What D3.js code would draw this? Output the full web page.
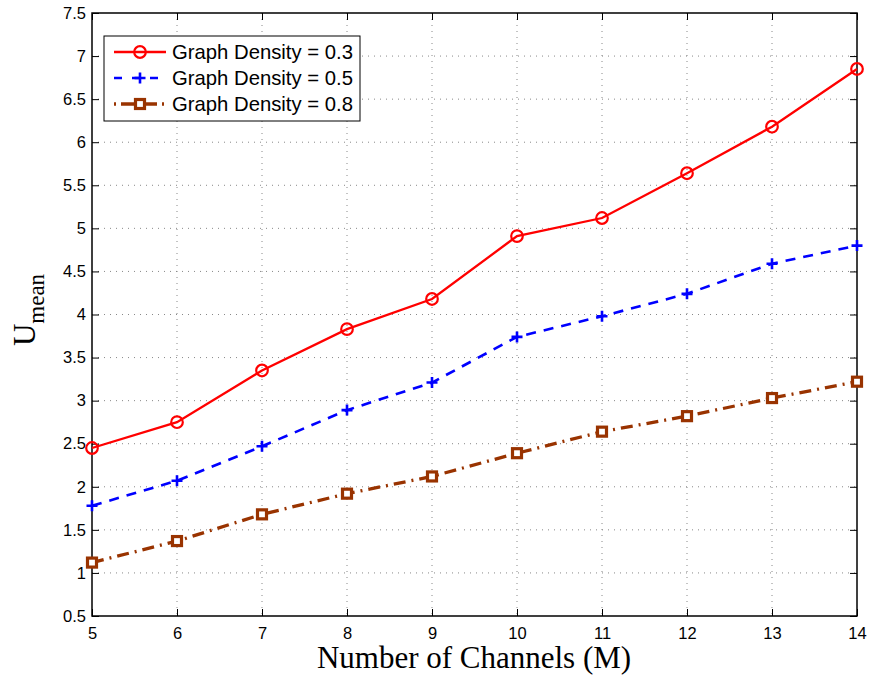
<!DOCTYPE html>
<html><head><meta charset="utf-8">
<script src="https://cdn.jsdelivr.net/npm/d3@7"></script>
<style>body{margin:0;background:#fff}svg{display:block}</style>
</head><body>
<script>
const channels = [5,6,7,8,9,10,11,12,13,14];
const density03 = [2.45,2.75,3.35,3.83,4.18,4.91,5.12,5.64,6.18,6.85];
const density05 = [1.78,2.07,2.47,2.89,3.21,3.74,3.98,4.24,4.59,4.80];
const density08 = [1.12,1.37,1.68,1.92,2.12,2.39,2.64,2.82,3.03,3.22];
const xTicks = [5,6,7,8,9,10,11,12,13,14];
const yTicks = [0.5,1,1.5,2,2.5,3,3.5,4,4.5,5,5.5,6,6.5,7,7.5];
const seriesNames = ["Graph Density = 0.3","Graph Density = 0.5","Graph Density = 0.8"];

const W=873,H=675, L=92,R=857,T=13,B=616;
const svg=d3.select("body").append("svg").attr("width",W).attr("height",H);
const x=d3.scaleLinear().domain([5,14]).range([L,R]);
const y=d3.scaleLinear().domain([0.5,7.5]).range([B,T]);

// grid
const g=svg.append("g");
g.selectAll(".gx").data(xTicks.slice(1,-1)).enter().append("line")
 .attr("x1",d=>x(d)).attr("x2",d=>x(d)).attr("y1",T).attr("y2",B)
 .attr("stroke","#888").attr("stroke-width",1).attr("stroke-dasharray","1,5");
g.selectAll(".gy").data(yTicks.slice(1,-1)).enter().append("line")
 .attr("y1",d=>y(d)).attr("y2",d=>y(d)).attr("x1",L).attr("x2",R)
 .attr("stroke","#888").attr("stroke-width",1).attr("stroke-dasharray","1,5");

// axes
const font="Liberation Sans, Arial, sans-serif";
const ax=svg.append("g").attr("transform",`translate(0,${B})`).call(d3.axisBottom(x).tickValues(xTicks).tickSize(-7).tickPadding(11).tickFormat(d3.format("d")));
const axT=svg.append("g").attr("transform",`translate(0,${T})`).call(d3.axisTop(x).tickValues(xTicks).tickSize(-7).tickFormat(""));
const ay=svg.append("g").attr("transform",`translate(${L},0)`).call(d3.axisLeft(y).tickValues(yTicks).tickSize(-7).tickPadding(6).tickFormat(d=>String(d)));
const ayR=svg.append("g").attr("transform",`translate(${R},0)`).call(d3.axisRight(y).tickValues(yTicks).tickSize(-7).tickFormat(""));
[ax,axT,ay,ayR].forEach(a=>{
  a.select(".domain").remove();
  a.selectAll("line").attr("stroke","#000").attr("stroke-width",1);
  a.selectAll("text").attr("font-family",font).attr("font-size",16.5).attr("fill","#000");
});
svg.append("rect").attr("x",L).attr("y",T).attr("width",R-L).attr("height",B-T)
 .attr("fill","none").attr("stroke","#000").attr("stroke-width",1.5);

// series
const series=[
 {vals:density03,color:"#ff0000",dash:null,w:2.3,marker:"circle"},
 {vals:density05,color:"#0000ff",dash:"10,8",w:2.6,marker:"plus"},
 {vals:density08,color:"#993300",dash:"12,6,2,6",w:3.3,marker:"square"}
];
const line=d3.line().x((d,i)=>x(channels[i])).y(d=>y(d));
function drawMarker(sel,type,color,cx,cy){
  if(type==="circle") sel.append("circle").attr("cx",cx).attr("cy",cy).attr("r",5.8).attr("fill","none").attr("stroke",color).attr("stroke-width",2.2);
  else if(type==="plus"){
    sel.append("path").attr("d",`M${cx-5.5},${cy}H${cx+5.5}M${cx},${cy-5.5}V${cy+5.5}`).attr("stroke",color).attr("stroke-width",2.6).attr("fill","none");
  } else {
    sel.append("rect").attr("x",cx-4.5).attr("y",cy-4.5).attr("width",9).attr("height",9).attr("fill","#fff").attr("stroke",color).attr("stroke-width",3.2);
  }
}
series.forEach(s=>{
  const p=svg.append("path").datum(s.vals).attr("d",line).attr("fill","none")
   .attr("stroke",s.color).attr("stroke-width",s.w);
  if(s.dash) p.attr("stroke-dasharray",s.dash);
  const mg=svg.append("g");
  s.vals.forEach((v,i)=>drawMarker(mg,s.marker,s.color,x(channels[i]),y(v)));
});

// legend
const lg=svg.append("g");
lg.append("rect").attr("x",104).attr("y",36).attr("width",256).attr("height",85).attr("fill","#fff").attr("stroke","#000").attr("stroke-width",1);
series.forEach((s,i)=>{
  const yy=52+i*26;
  const l=lg.append("line").attr("x1",114).attr("x2",166).attr("y1",yy).attr("y2",yy).attr("stroke",s.color).attr("stroke-width",s.w);
  if(i===1) l.attr("stroke-dasharray","8,10");
  if(i===2) l.attr("stroke-dasharray","2,5,14,8,14,5,2");
  drawMarker(lg,s.marker,s.color,140,yy);
  lg.append("text").attr("x",172).attr("y",yy+7).attr("font-family",font).attr("font-size",20.3).text(seriesNames[i]);
});

// labels
svg.append("text").attr("x",474).attr("y",668).attr("text-anchor","middle")
 .attr("font-family","Liberation Serif, Times New Roman, serif").attr("font-size",31).text("Number of Channels (M)");
const yl=svg.append("text").attr("transform",`translate(35,310) rotate(-90)`).attr("text-anchor","middle")
 .attr("font-family","Liberation Serif, Times New Roman, serif").attr("font-size",31);
yl.append("tspan").text("U");
yl.append("tspan").attr("dy",9).attr("font-size",23).text("mean");
</script>
</body></html>
